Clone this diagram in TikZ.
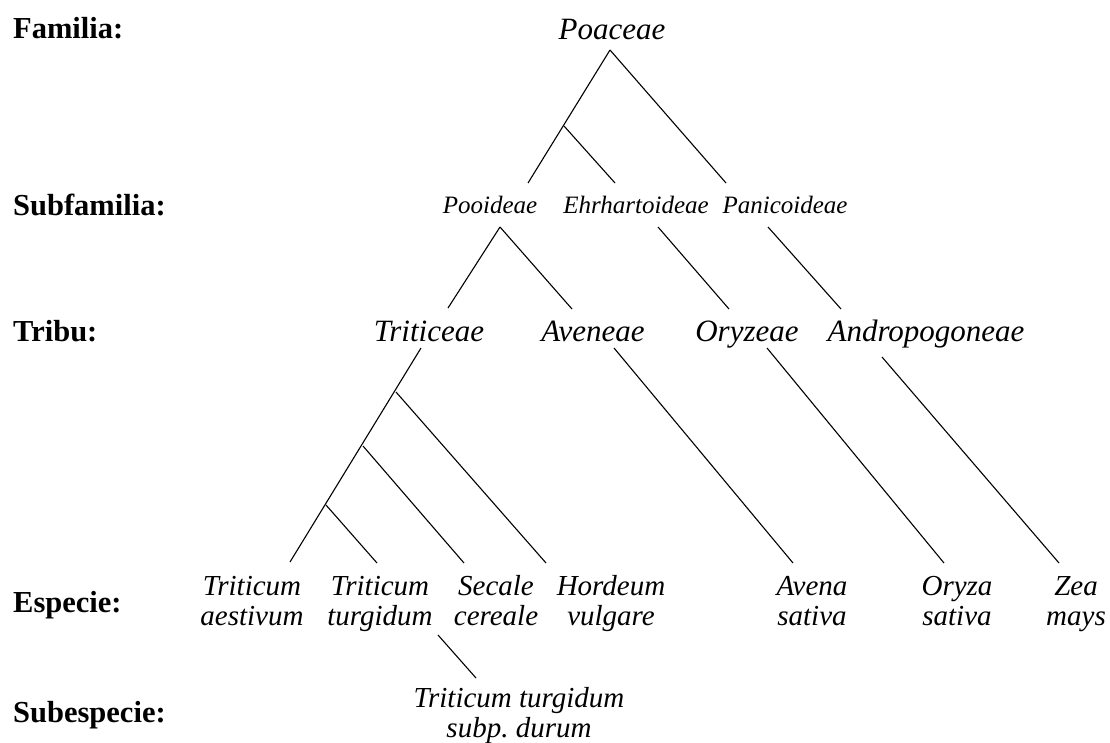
\documentclass[tikz,border=0pt]{standalone}
\usepackage{fontspec}
\setmainfont{Liberation Serif}
\begin{document}
\begin{tikzpicture}[x=1pt,y=-1pt,
  rank/.style={anchor=base west,inner sep=0pt,font=\fontsize{30.5}{32}\selectfont\bfseries},
  big/.style={anchor=base,inner sep=0pt,font=\fontsize{31}{32}\selectfont\itshape},
  sub/.style={anchor=base,inner sep=0pt,font=\fontsize{25}{26}\selectfont\itshape},
  sp/.style={anchor=base,inner sep=0pt,font=\fontsize{29}{30}\selectfont\itshape},
  edge/.style={draw=black,line width=1.1pt}]
\useasboundingbox (0,0) rectangle (1110,742);
% rank labels
\node[rank] (rFam) at (13,38) {Familia:};
\node[rank] (rSubf) at (13,215) {Subfamilia:};
\node[rank] (rTri) at (13,341) {Tribu:};
\node[rank] (rEsp) at (13,612) {Especie:};
\node[rank] (rSubesp) at (13,722) {Subespecie:};
% taxa
\node[big] (poa) at (612,39) {Poaceae};
\node[sub] (pooi) at (490,213) {Pooideae};
\node[sub] (ehrh) at (636,213) {Ehrhartoideae};
\node[sub] (pani) at (785,213) {Panicoideae};
\node[big] (trit) at (429,341) {Triticeae};
\node[big] (aven) at (593,341) {Aveneae};
\node[big] (oryz) at (747,341) {Oryzeae};
\node[big] (andr) at (926,341) {Andropogoneae};
\node[sp] (taes) at (252,595) {\begin{tabular}[t]{@{}c@{}}Triticum\\aestivum\end{tabular}};
\node[sp] (ttur) at (380,595) {\begin{tabular}[t]{@{}c@{}}Triticum\\turgidum\end{tabular}};
\node[sp] (scer) at (496,595) {\begin{tabular}[t]{@{}c@{}}Secale\\cereale\end{tabular}};
\node[sp] (hvul) at (611,595) {\begin{tabular}[t]{@{}c@{}}Hordeum\\vulgare\end{tabular}};
\node[sp] (asat) at (812,595) {\begin{tabular}[t]{@{}c@{}}Avena\\sativa\end{tabular}};
\node[sp] (osat) at (957,595) {\begin{tabular}[t]{@{}c@{}}Oryza\\sativa\end{tabular}};
\node[sp] (zmay) at (1076,595) {\begin{tabular}[t]{@{}c@{}}Zea\\mays\end{tabular}};
\node[sp] (tdur) at (519,707) {\begin{tabular}[t]{@{}c@{}}Triticum turgidum\\subp.\ durum\end{tabular}};
% connector end points
\coordinate (poaB) at (610,50);
\coordinate (jPE) at (564,126);
\coordinate (pooiT) at (528,183);
\coordinate (ehrhT) at (615,183);
\coordinate (paniT) at (726,183);
\coordinate (pooiB) at (500,227);
\coordinate (ehrhB) at (658,227);
\coordinate (paniB) at (768,227);
\coordinate (tritT) at (448,308);
\coordinate (avenT) at (572,309);
\coordinate (oryzT) at (729,309);
\coordinate (andrT) at (841,309);
\coordinate (tritB) at (421,348);
\coordinate (j1) at (396,392);
\coordinate (j2) at (363,446);
\coordinate (j3) at (326,505);
\coordinate (avenB) at (614,348);
\coordinate (oryzB) at (767,348);
\coordinate (andrB) at (882,357);
\coordinate (taesT) at (290,562);
\coordinate (tturT) at (377,563);
\coordinate (scerT) at (464,563);
\coordinate (hvulT) at (546,563);
\coordinate (asatT) at (793,563);
\coordinate (osatT) at (944,563);
\coordinate (zmayT) at (1059,563);
\coordinate (tturB) at (438,635);
\coordinate (tdurT) at (476,678);
% connectors
\draw[edge] (poaB) -- (pooiT);
\draw[edge] (jPE) -- (ehrhT);
\draw[edge] (poaB) -- (paniT);
\draw[edge] (pooiB) -- (tritT);
\draw[edge] (pooiB) -- (avenT);
\draw[edge] (ehrhB) -- (oryzT);
\draw[edge] (paniB) -- (andrT);
\draw[edge] (tritB) -- (taesT);
\draw[edge] (j1) -- (hvulT);
\draw[edge] (j2) -- (scerT);
\draw[edge] (j3) -- (tturT);
\draw[edge] (avenB) -- (asatT);
\draw[edge] (oryzB) -- (osatT);
\draw[edge] (andrB) -- (zmayT);
\draw[edge] (tturB) -- (tdurT);
\end{tikzpicture}
\end{document}
